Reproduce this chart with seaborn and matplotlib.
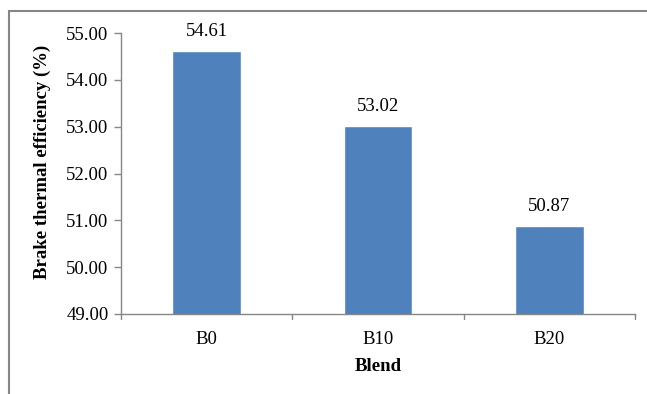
import matplotlib
matplotlib.use("Agg")
import matplotlib.pyplot as plt
from matplotlib.patches import Rectangle
import seaborn as sns
import pandas as pd

blends = ["B0", "B10", "B20"]
efficiency = [54.61, 53.02, 50.87]
y_ticks = [49.00, 50.00, 51.00, 52.00, 53.00, 54.00, 55.00]

sns.set_theme(style="white")
plt.rcParams["font.family"] = ["Liberation Serif", "DejaVu Serif"]
plt.rcParams["text.color"] = "black"
plt.rcParams["axes.labelcolor"] = "black"

FS = 13.5

df = pd.DataFrame({"Blend": blends, "Efficiency": efficiency})

fig = plt.figure(figsize=(6.47, 3.94), dpi=100)
ax = fig.add_axes([121 / 647, 1 - 314 / 394, 514 / 647, 281 / 394])

sns.barplot(data=df, x="Blend", y="Efficiency", color="#4F81BD",
            saturation=1, width=0.4, ax=ax)

ax.set_ylim(49, 55)
ax.set_xlim(-0.5, 2.5)
ax.set_yticks(y_ticks)
ax.set_yticklabels([f"{v:.2f}" for v in y_ticks], fontsize=FS)
ax.set_xticks([0, 1, 2])
ax.set_xticklabels(blends, fontsize=FS)
ax.tick_params(axis="x", length=0, pad=12.5, labelcolor="black")
ax.tick_params(axis="y", length=5, width=1, color="#868686", pad=4,
               direction="out", left=True, labelcolor="black")

# category boundary ticks below the x axis
for b in [-0.5, 0.5, 1.5, 2.5]:
    ax.plot([b, b], [0, -0.018], transform=ax.get_xaxis_transform(),
            color="#868686", lw=1, clip_on=False)

for side in ["top", "right"]:
    ax.spines[side].set_visible(False)
for side in ["left", "bottom"]:
    ax.spines[side].set_color("#868686")
    ax.spines[side].set_linewidth(1)

ax.set_xlabel("Blend", fontsize=FS, fontweight="bold", labelpad=7)
ax.set_ylabel("Brake thermal efficiency (%)", fontsize=FS, fontweight="bold")
ax.yaxis.set_label_coords(-0.136, 0.54)

for i, v in enumerate(efficiency):
    ax.annotate(f"{v:.2f}", (i, v), xytext=(0, 8), textcoords="offset points",
                ha="center", va="bottom", fontsize=FS)

# outer chart frame
fig.patches.append(Rectangle((8.5 / 647, -0.1), 1.2, 1 - 11.5 / 394 + 0.1,
                             transform=fig.transFigure, fill=False,
                             edgecolor="#868686", lw=1.5))

fig.savefig("out.png", dpi=100)
